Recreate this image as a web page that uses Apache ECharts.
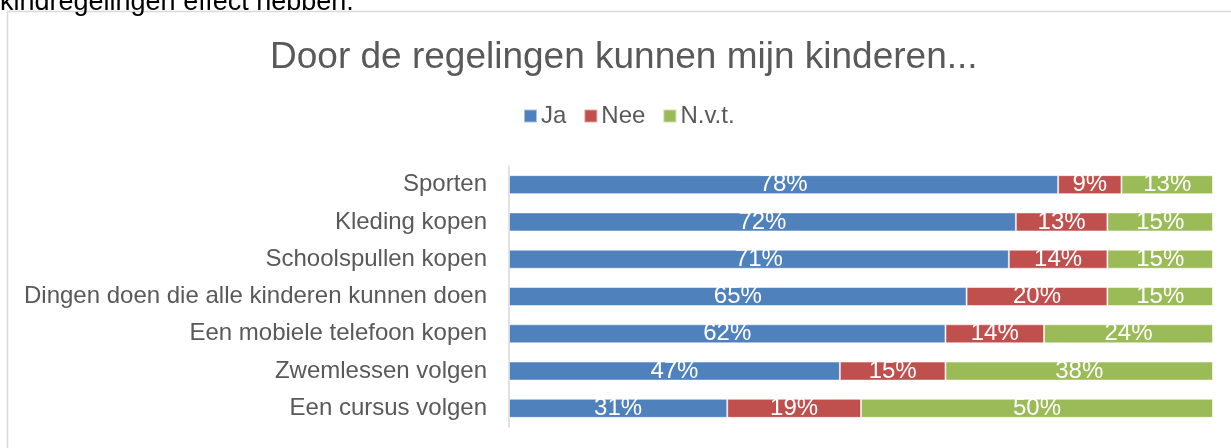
<!DOCTYPE html>
<html>
<head>
<meta charset="utf-8">
<script src="https://cdn.jsdelivr.net/npm/echarts@6/dist/echarts.min.js"></script>
<style>
   html, body { margin: 0; padding: 0; background: #fff; }
   #chart { width: 1231px; height: 448px; }
</style>
</head>
<body>
<div id="chart"></div>
<script>
var categories = [
   'Sporten',
   'Kleding kopen',
   'Schoolspullen kopen',
   'Dingen doen die alle kinderen kunnen doen',
   'Een mobiele telefoon kopen',
   'Zwemlessen volgen',
   'Een cursus volgen'
];
var ja  = [78, 72, 71, 65, 62, 47, 31];
var nee = [9, 13, 14, 20, 14, 15, 19];
var nvt = [13, 15, 15, 15, 24, 38, 50];

var fontName = '"Liberation Sans", Arial, sans-serif';

function barSeries(name, values, color) {
   return {
      name: name,
      type: 'bar',
      stack: 'total',
      barWidth: 19,
      data: values,
      itemStyle: { color: color, borderColor: 'rgba(255,255,255,0.5)', borderWidth: 1 },
      label: {
         show: true,
         position: 'inside',
         color: '#fff',
         fontFamily: fontName,
         fontSize: 24,
         formatter: '{c}%'
      }
   };
}

var chart_el = document.getElementById('chart');
var chart = echarts.init(chart_el);
var option = {
   animation: false,
   textStyle: { fontFamily: fontName },
   title: {
      text: 'Door de regelingen kunnen mijn kinderen...',
      left: 265,
      top: 34,
      textStyle: { fontFamily: fontName, fontSize: 37, fontWeight: 'normal', color: '#595959' }
   },
   legend: {
      top: 99,
      left: 518,
      itemWidth: 13,
      itemHeight: 13,
      itemGap: 17,
      icon: 'rect',
      textStyle: { fontFamily: fontName, fontSize: 24, color: '#595959', padding: [0, 0, 0, -1] },
      data: ['Ja', 'Nee', 'N.v.t.']
   },
   grid: { left: 509, right: 18, top: 166, bottom: 21, containLabel: false },
   xAxis: {
      type: 'value',
      min: 0,
      max: 100,
      show: false
   },
   yAxis: {
      type: 'category',
      inverse: true,
      data: categories,
      axisLine: { show: true, lineStyle: { color: '#d9d9d9', width: 1.5 } },
      axisTick: { show: false },
      axisLabel: { fontFamily: fontName, fontSize: 24, color: '#595959', margin: 22 }
   },
   // chart frame and the clipped sentence above it
   graphic: [
      {
         type: 'rect',
         shape: { x: 7.5, y: 11.5, width: 1300, height: 600 },
         style: { fill: 'none', stroke: '#d9d9d9', lineWidth: 1.5 },
         silent: true
      },
      {
         type: 'text',
         x: 0,
         y: 16,
         style: {
            text: 'kindregelingen effect hebben.',
            font: '27px "Liberation Sans", Arial, sans-serif',
            fill: '#000',
            verticalAlign: 'bottom'
         }
      }
   ],
   series: [
      barSeries('Ja', ja, '#4f81bd'),
      barSeries('Nee', nee, '#c0504d'),
      barSeries('N.v.t.', nvt, '#9bbb59')
   ]
};
chart.setOption(option);
</script>
</body>
</html>
